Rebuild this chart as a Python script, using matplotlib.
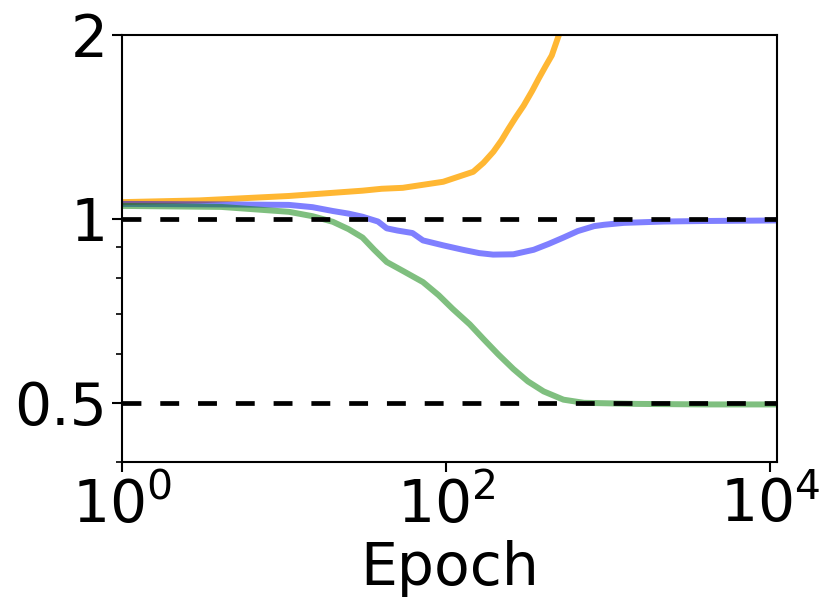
import matplotlib
matplotlib.use("Agg")
import matplotlib.pyplot as plt
from matplotlib.ticker import NullFormatter, NullLocator

# values (epoch, metric)
orange_epoch = [1, 3, 10.7, 30.5, 40, 54, 96, 147, 170, 196, 220, 243, 270, 301, 340, 373,
                410, 449, 497, 600]
orange_value = [1.065, 1.072, 1.09, 1.112, 1.12, 1.124, 1.15, 1.194, 1.235, 1.288, 1.345,
                1.405, 1.468, 1.532, 1.62, 1.697, 1.775, 1.851, 2.0, 2.4]

blue_epoch = [1, 4.1, 10.7, 15, 20, 25, 30.5, 38, 43, 50, 62, 72, 96, 127, 160, 195, 260,
              347, 430, 530, 650, 820, 945, 1250, 2200, 3950, 11000]
blue_value = [1.058, 1.056, 1.054, 1.045, 1.03, 1.02, 1.008, 0.99, 0.965, 0.957, 0.948,
              0.922, 0.905, 0.89, 0.879, 0.874, 0.875, 0.89, 0.91, 0.932, 0.955, 0.973,
              0.978, 0.985, 0.99, 0.992, 0.994]

green_epoch = [1, 4.1, 10.7, 15, 20, 25, 30.5, 36, 43, 55, 72, 90, 110, 140, 170, 210, 260,
               320, 400, 530, 710, 1500, 4000, 11000]
green_value = [1.05, 1.046, 1.027, 1.01, 0.989, 0.962, 0.932, 0.89, 0.85, 0.82, 0.788,
               0.75, 0.712, 0.672, 0.636, 0.6, 0.568, 0.542, 0.522, 0.506, 0.5, 0.498,
               0.497, 0.497]

targets = [1.0, 0.5]

plt.rcParams["font.size"] = 42

fig = plt.figure(figsize=(8.3, 6.12), dpi=100)
ax = fig.add_axes([0.147, 0.245, 0.789, 0.698])

ax.plot(orange_epoch, orange_value, color="orange", alpha=0.8, lw=4.3)
ax.plot(blue_epoch, blue_value, color="blue", alpha=0.5, lw=4.3)
ax.plot(green_epoch, green_value, color="green", alpha=0.5, lw=4.3)
for t in targets:
    ax.axhline(t, color="black", lw=3.4, dashes=(4, 4))

ax.set_xscale("log")
ax.set_yscale("log")
ax.set_xlim(1, 11000)
ax.set_ylim(0.4, 2)
ax.set_xticks([1, 1e2, 1e4])
ax.xaxis.set_minor_locator(NullLocator())
ax.set_yticks([0.5, 1, 2])
ax.set_yticklabels(["0.5", "1", "2"])
ax.yaxis.set_minor_formatter(NullFormatter())
ax.tick_params(which="major", length=7, width=1.5)
ax.tick_params(which="minor", length=4, width=1.2)
for s in ax.spines.values():
    s.set_linewidth(1.5)
ax.set_xlabel("Epoch")

fig.savefig("out.png", dpi=100)
